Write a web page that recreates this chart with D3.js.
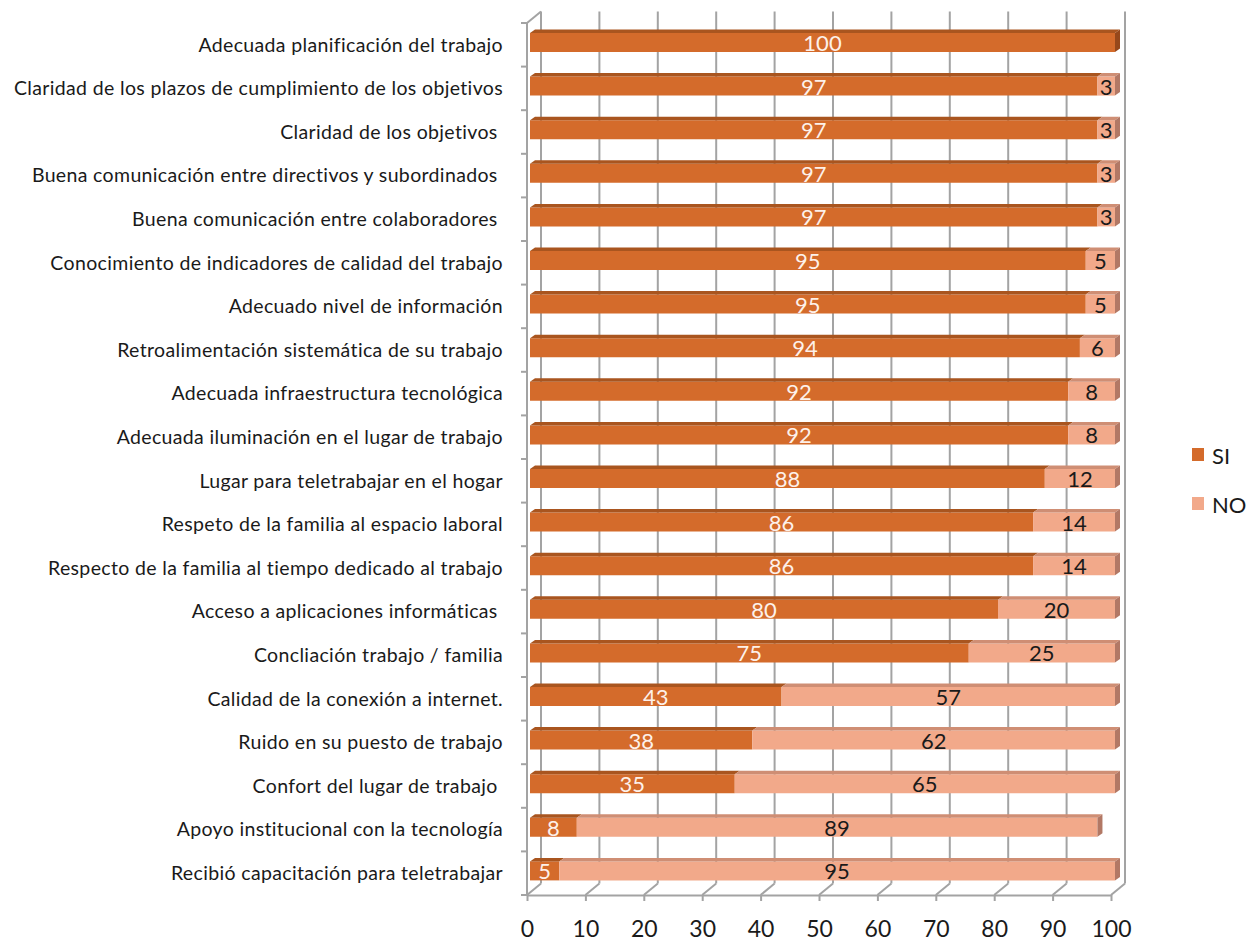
<!DOCTYPE html>
<html>
<head>
<meta charset="utf-8">
<script src="https://cdn.jsdelivr.net/npm/d3@7"></script>
<style>
  body { margin: 0; background: #fff; }
  svg text { font-family: Lato, "Open Sans", sans-serif; white-space: pre; }
</style>
</head>
<body>
<div id="chart"></div>
<script>
// Data
const categories = [
  "Adecuada planificación del trabajo",
  "Claridad de los plazos de cumplimiento de los objetivos",
  "Claridad de los objetivos ",
  "Buena comunicación entre directivos y subordinados ",
  "Buena comunicación entre colaboradores ",
  "Conocimiento de indicadores de calidad del trabajo",
  "Adecuado nivel de información",
  "Retroalimentación sistemática de su trabajo",
  "Adecuada infraestructura tecnológica",
  "Adecuada iluminación en el lugar de trabajo",
  "Lugar para teletrabajar en el hogar",
  "Respeto de la familia al espacio laboral",
  "Respecto de la familia al tiempo dedicado al trabajo",
  "Acceso a aplicaciones informáticas ",
  "Concliación trabajo / familia",
  "Calidad de la conexión a internet.",
  "Ruido en su puesto de trabajo",
  "Confort del lugar de trabajo ",
  "Apoyo institucional con la tecnología",
  "Recibió capacitación para teletrabajar"
];
const si = [100, 97, 97, 97, 97, 95, 95, 94, 92, 92, 88, 86, 86, 80, 75, 43, 38, 35, 8, 5];
const no = [0, 3, 3, 3, 3, 5, 5, 6, 8, 8, 12, 14, 14, 20, 25, 57, 62, 65, 89, 95];
const seriesNames = ["SI", "NO"];
const xTicks = [0, 10, 20, 30, 40, 50, 60, 70, 80, 90, 100];

const W = 1255, H = 941;
const colors = {
  SI: { front: "#d46b2b", top: "#a9551f", side: "#96481b" },
  NO: { front: "#f2a98a", top: "#cf8e74", side: "#b27865" }
};
const grid = "#a3a3a3";

// front plane scales
const x = d3.scaleLinear().domain([0, 100]).range([527, 1111]);
const y = d3.scaleBand().domain(categories).range([23, 895]).paddingInner(0);
// back wall offset
const back = { dx: 14, dy: -11.5 };
// bars sit a little behind the front plane
const xb = d3.scaleLinear().domain([0, 100]).range([530, 1115]);
const barTop = 10, barH = 19, depth = { dx: 5, dy: -3.5 };

const svg = d3.select("#chart").append("svg").attr("width", W).attr("height", H);

// back wall grid
const gGrid = svg.append("g").attr("stroke", grid).attr("stroke-width", 2).attr("fill", "none");
gGrid.selectAll("line.v").data(xTicks).enter().append("line")
  .attr("x1", d => x(d) + back.dx).attr("x2", d => x(d) + back.dx)
  .attr("y1", 23 + back.dy).attr("y2", 895 + back.dy);
gGrid.selectAll("line.f").data(xTicks).enter().append("line")
  .attr("x1", d => x(d) + back.dx).attr("y1", 895 + back.dy)
  .attr("x2", d => x(d)).attr("y2", 895);
// left wall
gGrid.append("line").attr("x1", x(0)).attr("x2", x(0)).attr("y1", 23).attr("y2", 895);
gGrid.append("line").attr("x1", x(0)).attr("y1", 23).attr("x2", x(0) + back.dx).attr("y2", 23 + back.dy);
gGrid.selectAll("line.lt").data(categories.concat([null])).enter().append("line")
  .attr("x1", x(0) - 6).attr("x2", x(0))
  .attr("y1", (d, i) => 23 + i * y.step()).attr("y2", (d, i) => 23 + i * y.step());

// x axis
const xAxis = d3.axisBottom(x).tickValues(xTicks).tickSize(6).tickSizeOuter(0).tickPadding(20);
const gx = svg.append("g").attr("transform", "translate(0,895)").call(xAxis);
gx.select(".domain").attr("stroke", grid).attr("stroke-width", 2);
gx.selectAll(".tick line").attr("stroke", grid).attr("stroke-width", 2);
gx.selectAll(".tick text").attr("font-size", 23).attr("fill", "#1a1a1a")
  .style("font-family", "Lato, 'Open Sans', sans-serif");

// stacked 3D bars
const rows = categories.map((c, i) => ({ cat: c, SI: si[i], NO: no[i] }));
const stack = d3.stack().keys(seriesNames)(rows);

function face(x0, x1, yt) {
  return {
    front: [[x0, yt], [x1, yt], [x1, yt + barH], [x0, yt + barH]],
    top: [[x0, yt], [x1, yt], [x1 + depth.dx, yt + depth.dy], [x0 + depth.dx, yt + depth.dy]],
    side: [[x1, yt], [x1 + depth.dx, yt + depth.dy], [x1 + depth.dx, yt + barH + depth.dy], [x1, yt + barH]]
  };
}
const line = d3.line();

stack.forEach(s => {
  const key = s.key;
  const g = svg.append("g");
  s.forEach(d => {
    if (d[1] - d[0] <= 0) return;
    const yt = y(d.data.cat) + barTop;
    const f = face(xb(d[0]), xb(d[1]), yt);
    g.append("path").attr("d", line(f.front) + "Z").attr("fill", colors[key].front);
    g.append("path").attr("d", line(f.top) + "Z").attr("fill", colors[key].top);
    const isEnd = d[1] >= d.data.SI + d.data.NO;
    if (isEnd) g.append("path").attr("d", line(f.side) + "Z").attr("fill", colors[key].side);
  });
});

// value labels
stack.forEach(s => {
  svg.append("g").selectAll("text").data(s.filter(d => d[1] - d[0] > 0)).enter().append("text")
    .attr("x", d => (xb(d[0]) + xb(d[1])) / 2)
    .attr("y", d => y(d.data.cat) + barTop + barH / 2)
    .attr("text-anchor", "middle").attr("dominant-baseline", "central")
    .attr("font-size", 22)
    .attr("fill", s.key === "SI" ? "#fdf1ea" : "#1a1a1a")
    .text(d => d[1] - d[0]);
});

// category labels
svg.append("g").selectAll("text").data(categories).enter().append("text")
  .attr("x", 503).attr("y", d => y(d) + barTop + barH / 2 + 1.5)
  .attr("text-anchor", "end").attr("dominant-baseline", "central")
  .attr("font-size", 19.5).attr("letter-spacing", 0.35).attr("fill", "#1a1a1a")
  .text(d => d);

// legend
const legend = svg.append("g").selectAll("g").data(seriesNames).enter().append("g")
  .attr("transform", (d, i) => `translate(1192,${448 + i * 49})`);
legend.append("rect").attr("width", 12).attr("height", 13).attr("fill", d => colors[d].front);
legend.append("text").attr("x", 20).attr("y", 7).attr("dominant-baseline", "central")
  .attr("font-size", 22).attr("fill", "#1a1a1a").text(d => d);
</script>
</body>
</html>
